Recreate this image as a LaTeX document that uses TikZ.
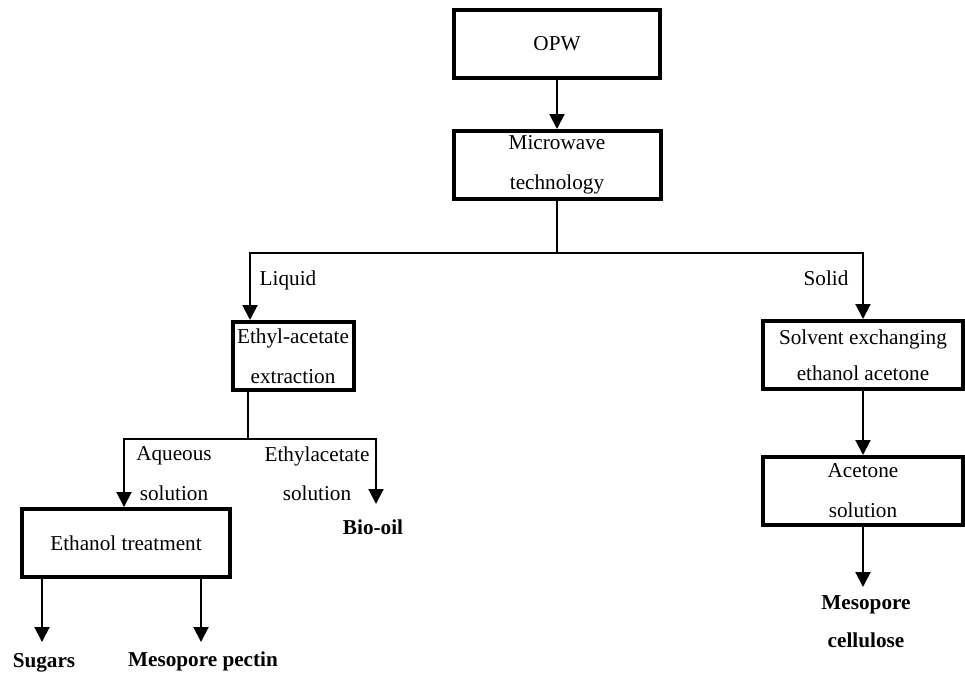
\documentclass[tikz,border=0pt]{standalone}
\usepackage{fontspec}
\setmainfont{Liberation Serif}
\usetikzlibrary{arrows.meta}
\begin{document}
\begin{tikzpicture}[x=0.5pt,y=-0.5pt,
  box/.style={draw,line width=2pt,minimum width=#1,inner sep=0pt,align=center,
    minimum height=34pt,font=\fontsize{10.6}{20}\selectfont},
  box/.default=103pt,
  lbl/.style={font=\fontsize{10.6}{12}\selectfont,inner sep=0pt},
  prod/.style={font=\fontsize{10.6}{12}\selectfont\bfseries,inner sep=0pt},
  conn/.style={line width=1pt},
  arr/.style={conn,-{Triangle[length=7.5pt,width=7.5pt]}}]
\useasboundingbox (0,0) rectangle (965,677);

% process boxes
\node[box=103pt] (opw) at (557,44) {OPW};
\node[box=103.5pt] (mw) at (557,165) {Microwave\\technology};
\node[box=60.5pt] (ea) at (293,356) {Ethyl-acetate\\extraction};
\node[box=104pt] (et) at (126,543) {Ethanol treatment};
\node[box=100pt,font=\fontsize{10.6}{18}\selectfont] (se) at (863,355) {Solvent exchanging\\ethanol acetone};
\node[box=100pt] (ac) at (863,491) {Acetone\\solution};

% branch points and free ends
\coordinate (split) at (557,253);
\coordinate (liq) at (250,253);
\coordinate (eaout) at (248,391);
\coordinate (split2) at (248,439);
\coordinate (aq) at (124,439);
\coordinate (eth) at (376,439);
\coordinate (bio) at (376,504);
\coordinate (sug) at (42,642);
\coordinate (pec) at (201,642);
\coordinate (cel) at (863,587);

% connectors
\draw[arr] (opw) -- (mw);
\draw[conn] (mw.south) -- (split);
\draw[arr] (split) -- (liq) -- (liq |- ea.north);
\draw[arr] (split) -| (se.north);
\draw[conn] (eaout) -- (split2);
\draw[arr] (split2) -- (aq) -- (aq |- et.north);
\draw[arr] (split2) -- (eth) -- (bio);
\draw[arr] (sug |- et.south) -- (sug);
\draw[arr] (pec |- et.south) -- (pec);
\draw[arr] (se) -- (ac);
\draw[arr] (ac) -- (cel);

% branch labels
\node[lbl] (lliq) at (288,280) {Liquid};
\node[lbl] (lsol) at (826,278) {Solid};
\node[lbl] (laq1) at (174,456) {Aqueous};
\node[lbl] (laq2) at (174,493) {solution};
\node[lbl] (leth1) at (317,456) {Ethylacetate};
\node[lbl] (leth2) at (317,493) {solution};

% products
\node[prod] (pbio) at (373,527) {Bio-oil};
\node[prod] (psug) at (44,663) {Sugars};
\node[prod] (ppec) at (203,661) {Mesopore pectin};
\node[prod] (pcel1) at (866,605) {Mesopore};
\node[prod] (pcel2) at (866,640) {cellulose};
\end{tikzpicture}
\end{document}
